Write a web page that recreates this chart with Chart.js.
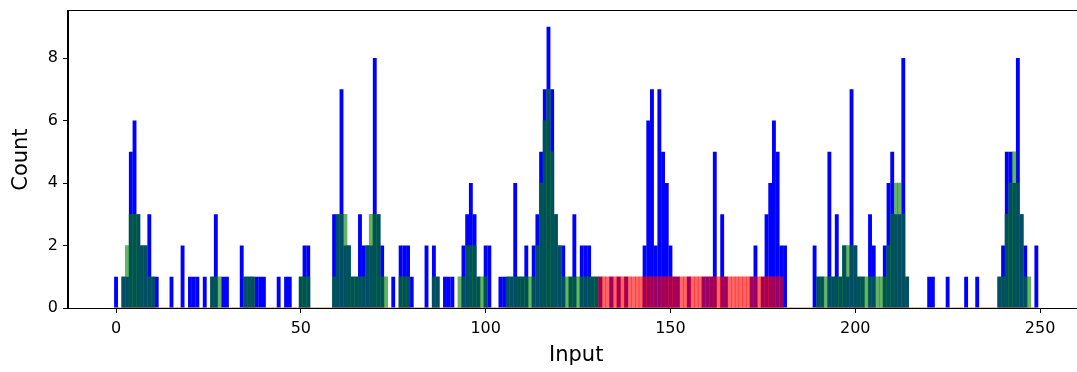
<!DOCTYPE html>
<html>
<head>
<meta charset="utf-8">
<script src="https://cdn.jsdelivr.net/npm/chart.js@4.4.1/dist/chart.umd.min.js"></script>
<style>
  html, body { margin: 0; padding: 0; background: #fff; overflow: hidden; }
  #wrap { width: 1077px; height: 372px; overflow: hidden; }
</style>
</head>
<body>
<div id="wrap"><canvas id="histChart" width="1090" height="372"></canvas></div>
<script>
// counts per integer input value 0..249
const blueCounts = [
  1,0,1,1,5,6,3,2,2,3,  1,1,0,0,0,1,0,0,2,0,
  1,1,1,0,1,0,1,3,0,1,  1,0,0,0,2,1,1,1,1,1,
  1,0,0,0,1,0,1,1,0,0,  1,2,2,0,0,0,0,0,0,3,
  3,7,2,2,1,1,3,2,2,2,  8,3,2,0,0,1,0,2,2,2,
  1,0,0,0,2,0,2,1,0,1,  1,1,0,0,2,3,4,3,1,0,
  2,2,0,0,1,1,1,1,4,1,  1,2,0,2,3,5,7,9,7,3,
  2,2,0,1,3,0,2,2,2,1,  1,1,0,0,1,0,1,0,1,0,
  0,0,0,2,6,7,2,7,5,4,  2,1,1,0,0,1,0,0,0,1,
  1,1,5,0,3,1,0,0,0,0,  0,0,1,2,0,1,3,4,6,5,
  2,2,0,0,0,0,0,0,0,2,  1,1,0,5,1,3,1,2,1,7,
  2,1,1,0,3,2,0,0,2,4,  5,3,3,8,1,0,0,0,0,0,
  1,1,0,0,0,1,0,0,0,0,  1,0,0,1,0,0,0,0,0,1,
  2,5,5,4,8,3,2,0,0,2
];

const greenCounts = [
  0,0,1,2,3,3,3,2,2,1,  1,0,0,0,0,0,0,0,0,0,
  0,0,0,0,0,0,1,1,1,0,  0,0,0,0,0,1,1,1,0,0,
  0,0,0,0,0,0,0,0,0,0,  1,1,1,0,0,0,0,0,0,1,
  3,3,3,2,1,1,1,1,2,3,  3,3,1,1,0,0,0,1,1,1,
  0,0,0,0,0,0,1,1,0,0,  0,0,0,1,1,2,2,2,1,1,
  1,0,0,0,0,0,1,1,1,1,  1,1,1,1,2,4,6,7,5,3,
  2,1,1,1,1,1,1,1,1,1,  1,0,0,0,0,0,0,0,0,0,
  0,0,0,0,0,0,0,0,0,0,  0,0,0,0,0,0,0,0,0,0,
  0,0,0,0,0,0,0,0,0,0,  0,0,0,0,0,0,0,0,0,0,
  0,0,0,0,0,0,0,0,0,0,  1,1,1,1,1,1,1,2,2,2,
  2,1,1,1,1,1,1,1,1,2,  3,4,4,3,1,0,0,0,0,0,
  0,0,0,0,0,0,0,0,0,0,  0,0,0,0,0,0,0,0,0,1,
  1,3,4,5,4,3,1,1,0,0
];

const redCounts = [
  0,0,0,0,0,0,0,0,0,0,  0,0,0,0,0,0,0,0,0,0,
  0,0,0,0,0,0,0,0,0,0,  0,0,0,0,0,0,0,0,0,0,
  0,0,0,0,0,0,0,0,0,0,  0,0,0,0,0,0,0,0,0,0,
  0,0,0,0,0,0,0,0,0,0,  0,0,0,0,0,0,0,0,0,0,
  0,0,0,0,0,0,0,0,0,0,  0,0,0,0,0,0,0,0,0,0,
  0,0,0,0,0,0,0,0,0,0,  0,0,0,0,0,0,0,0,0,0,
  0,0,0,0,0,0,0,0,0,0,  0,1,1,1,1,1,1,1,1,1,
  1,1,1,1,1,1,1,1,1,1,  1,1,1,1,1,1,1,1,1,1,
  1,1,1,1,1,1,1,1,1,1,  1,1,1,1,1,1,1,1,1,1,
  1,0,0,0,0,0,0,0,0,0,  0,0,0,0,0,0,0,0,0,0,
  0,0,0,0,0,0,0,0,0,0,  0,0,0,0,0,0,0,0,0,0,
  0,0,0,0,0,0,0,0,0,0,  0,0,0,0,0,0,0,0,0,0,
  0,0,0,0,0,0,0,0,0,0
];

const xTicks = [0, 50, 100, 150, 200, 250];
const yTicks = [0, 2, 4, 6, 8];

function toPoints(counts) {
    return counts.map((c, i) => ({ x: i, y: c }));
}

// matplotlib style box around the plot
const frame = {
    id: 'frame',
    afterDraw(chart) {
        const a = chart.chartArea;
        const ctx = chart.ctx;
        ctx.save();
        ctx.strokeStyle = '#000';
        ctx.lineWidth = 1;
        ctx.strokeRect(Math.round(a.left) - 0.5, Math.round(a.top) - 0.5,
            Math.round(a.right - a.left) + 1, Math.round(a.bottom - a.top) + 1);
        ctx.restore();
    }
};

Chart.defaults.font.family = 'DejaVu Sans';
Chart.defaults.color = '#000';

new Chart(document.getElementById('histChart'), {
    type: 'bar',
    data: {
        datasets: [
            {
                data: toPoints(redCounts),
                backgroundColor: 'rgba(255,0,0,0.6)',
                order: 1
            },
            {
                data: toPoints(greenCounts),
                backgroundColor: 'rgba(0,128,0,0.6)',
                order: 2
            },
            {
                data: toPoints(blueCounts),
                backgroundColor: '#0000ff',
                barPercentage: 1.05,
                order: 3
            }
        ]
    },
    plugins: [frame],
    options: {
        responsive: false,
        animation: false,
        layout: { padding: { top: 11.2, right: 5.6, bottom: 0, left: 0 } },
        datasets: {
            bar: {
                grouped: false,
                barPercentage: 1,
                categoryPercentage: 1,
                borderWidth: 0
            }
        },
        plugins: {
            legend: { display: false },
            tooltip: { enabled: false }
        },
        scales: {
            x: {
                type: 'linear',
                min: -13,
                max: 262,
                offset: false,
                grid: { offset: false, drawOnChartArea: false, drawTicks: true, tickLength: 5, color: '#000' },
                border: { display: true, color: '#000', width: 1 },
                ticks: { font: { size: 16 }, padding: 6, maxRotation: 0, color: '#000' },
                afterBuildTicks: s => { s.ticks = xTicks.map(v => ({ value: v })); },
                afterFit: s => { s.height = 64; s.paddingLeft = 0; s.paddingRight = 0; },
                title: { display: true, text: 'Input', font: { size: 21 }, color: '#000', padding: { top: 0, bottom: 4 } }
            },
            y: {
                type: 'linear',
                min: 0,
                max: 9.5,
                grid: { drawOnChartArea: false, drawTicks: true, tickLength: 5, color: '#000' },
                border: { display: true, color: '#000', width: 1 },
                ticks: { font: { size: 16 }, padding: 5, color: '#000' },
                afterBuildTicks: s => { s.ticks = yTicks.map(v => ({ value: v })); },
                afterFit: s => { s.width = 68; s.paddingTop = 0; s.paddingBottom = 0; },
                title: { display: true, text: 'Count', font: { size: 21 }, color: '#000', padding: { top: 9, bottom: 0 } }
            }
        }
    }
});
</script>
</body>
</html>
